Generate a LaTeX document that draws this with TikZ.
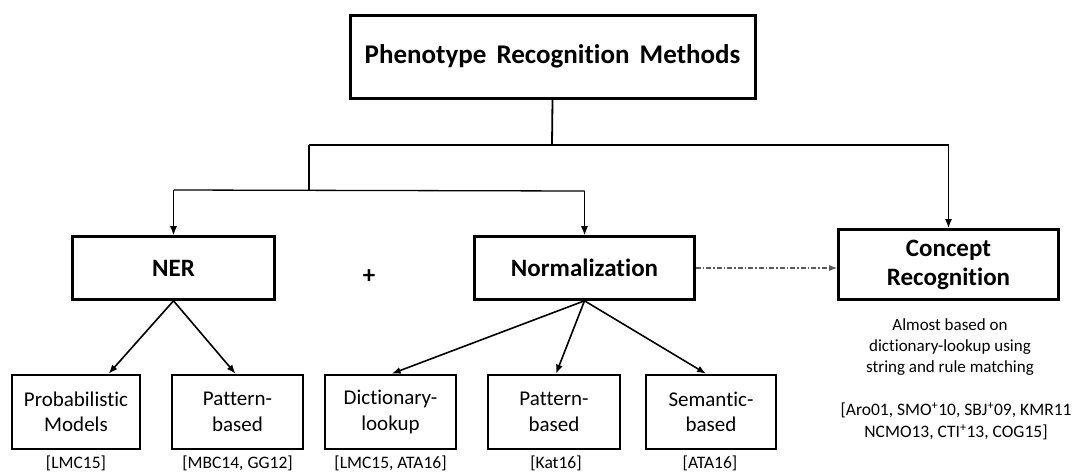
\documentclass[tikz,border=0pt]{standalone}
\usepackage{fontspec}
\setmainfont{Carlito}[Ligatures=NoCommon]
\usetikzlibrary{arrows.meta,calc}
\begin{document}
\begin{tikzpicture}[x=1pt,y=-1pt,
  box/.style={draw,line width=2.6pt,inner sep=0pt,align=center},
  bold/.style={font=\fontsize{25}{29}\selectfont\bfseries},
  reg/.style={font=\fontsize{21}{25.5}\selectfont},
  cite/.style={font=\fontsize{17.5}{21}\selectfont,inner sep=0pt,anchor=south},
  conn/.style={line width=1.8pt},
  arr/.style={line width=1.6pt,-{Latex[length=9pt,width=7pt]}},
  thinarr/.style={line width=1.1pt,-{Latex[length=9pt,width=7pt]}}]
\useasboundingbox (0,0) rectangle (1085,472);
% main boxes
\node[box,font=\fontsize{27}{31}\selectfont\bfseries,line width=3pt,minimum width=405pt,minimum height=83pt] (top) at (552.5,56.5) {Phenotype\hspace{0.15em} Recognition\hspace{0.15em} Methods};
\node[box,bold,minimum width=202pt,minimum height=63pt] (ner) at (173.5,268) {NER};
\node[box,bold,minimum width=220pt,minimum height=63pt] (norm) at (584.5,268) {Normalization};
\node[box,bold,minimum width=220pt,minimum height=70pt] (conc) at (948.5,264.5) {Concept\\Recognition};
\node[font=\fontsize{25}{29}\selectfont\bfseries] (plus) at (369,277) {+};
% bottom boxes
\node[box,reg,minimum width=128pt,minimum height=74pt] (p1) at (76,412) {Probabilistic\\Models};
\node[box,reg,minimum width=131pt,minimum height=74pt] (p2) at (237.5,412) {Pattern-\\based};
\node[box,reg,minimum width=131pt,minimum height=74pt] (d) at (390.5,412) {Dictionary-\\lookup};
\node[box,reg,minimum width=132pt,minimum height=74pt] (p3) at (554,412) {Pattern-\\based};
\node[box,reg,minimum width=130pt,minimum height=74pt] (s) at (711,412) {Semantic-\\based};
% citations
\node[cite] (c1) at (76,471) {[LMC15]};
\node[cite] (c2) at (237.5,471) {[MBC14, GG12]};
\node[cite] (c3) at (390.5,471) {[LMC15, ATA16]};
\node[cite] (c4) at (556,471) {[Kat16]};
\node[cite] (c5) at (710,471) {[ATA16]};
\node[font=\fontsize{17}{21}\selectfont,align=center] (desc) at (950,347) {Almost based on\\dictionary-lookup using\\string and rule matching};
\node[font=\fontsize{17.5}{22}\selectfont,align=center] (refs) at (956,421) {[Aro01, SMO\textsuperscript{+}10, SBJ\textsuperscript{+}09, KMR11\\NCMO13, CTI\textsuperscript{+}13, COG15]};
% connectors
\coordinate (j1) at (552,145);
\coordinate (jl) at (309,145);
\coordinate (jr) at (948.5,145);
\coordinate (k1) at (309,190);
\coordinate (kl) at (173.5,190);
\coordinate (kr) at (584.5,191);
\draw[conn] (top.south) -- (j1);
\draw[conn] (jl) -- (jr);
\draw[conn] (jl) -- (k1);
\draw[line width=1.3pt] (kl) -- (kr);
\draw[thinarr] (kl) -- (ner.north);
\draw[thinarr] (kr) -- (norm.north);
\draw[arr] (jr) -- (conc.north);
\draw[line width=1.2pt,gray!70!black,dash pattern=on 5pt off 2pt on 1.5pt off 2pt,-{Latex[length=8pt,width=6pt]}] (norm.east) -- (norm.east -| conc.west);
\draw[arr] (ner.south) -- ([xshift=98pt]p1.north west);
\draw[arr] (ner.south) -- ([xshift=-2pt]p2.north);
\draw[arr] (norm.south) -- ([xshift=68pt]d.north west);
\draw[arr] (norm.south) -- ([xshift=2pt]p3.north);
\draw[arr] (norm.south) -- ([xshift=-5pt]s.north);
\end{tikzpicture}
\end{document}
